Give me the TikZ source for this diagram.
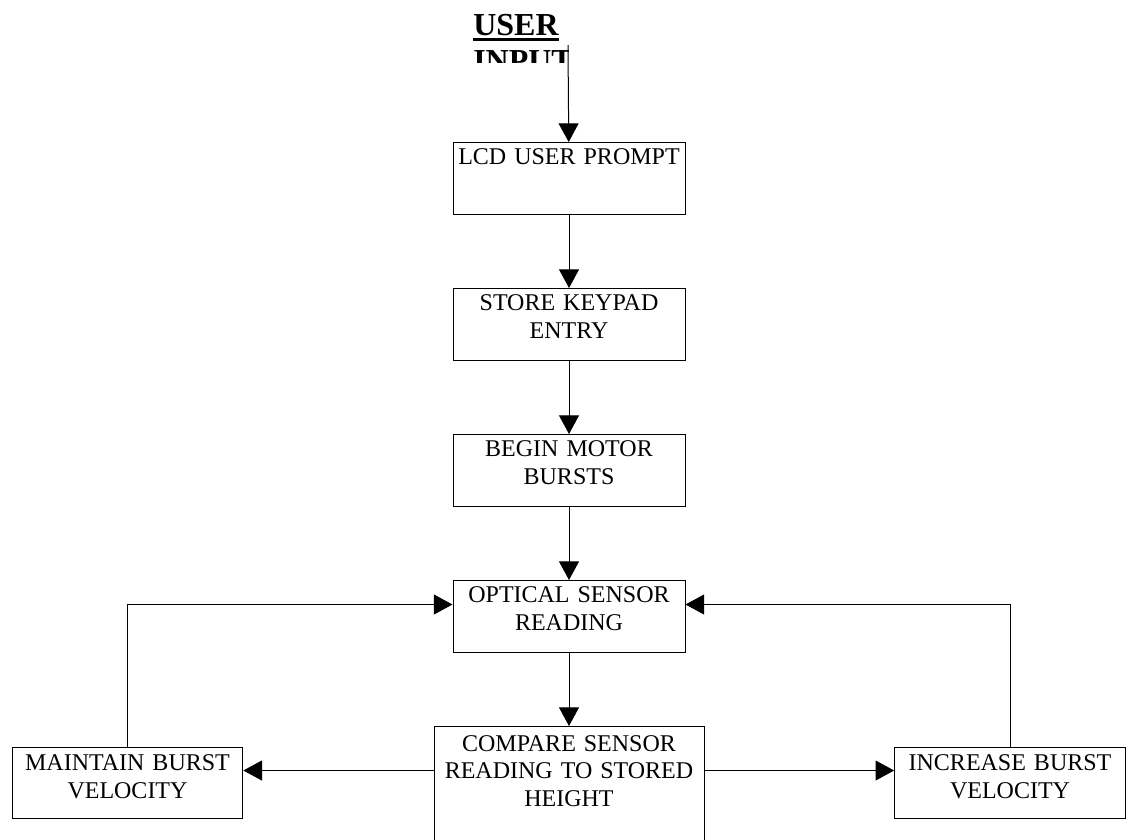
\documentclass[tikz,border=0pt]{standalone}
\usepackage{fontspec}
\setmainfont{Liberation Serif}
\usetikzlibrary{arrows.meta, positioning}

\begin{document}
\begin{tikzpicture}[
					x=0.75pt, y=-0.75pt,
					blk/.style={
						draw, line width=0.75pt, inner xsep=2pt, inner ysep=0pt,
						text width=170pt, align=center, font=\fontsize{18}{20.75}\selectfont,
						text height=16.5pt, text depth=37.5pt
					},
					ttl/.style={inner sep=0pt, font=\fontsize{24}{27}\selectfont\bfseries},
					flow/.style={-{Triangle[length=14pt, width=15pt]}, line width=0.75pt}
					]
					\clip (0,0) rectangle (1126,839);

					% title, cut off as in the original
					\begin{scope}
						\clip (460,0) rectangle (568,62);
						\node[ttl, anchor=base west] (user) at (473,35) {USER};
						\node[ttl, anchor=base west] (input) at (473,71) {INPUT};
						\draw[line width=2.2pt]
						([yshift=-3.6pt]user.base west) -- ([yshift=-3.6pt]user.base east);
					\end{scope}
					\coordinate (start) at (568,45);

					% main column
					\node[blk, anchor=north] (lcd) at (569,142) {LCD USER PROMPT};
					\node[blk, below=54.75pt of lcd] (store) {STORE KEYPAD\\ENTRY};
					\node[blk, below=54.75pt of store] (motor) {BEGIN MOTOR\\BURSTS};
					\node[blk, below=54.75pt of motor] (optical) {OPTICAL SENSOR\\READING};
					\node[blk, text width=198.5pt, text height=18.6pt, text depth=86.4pt,
					below=54.75pt of optical] (compare)
					{COMPARE SENSOR\\READING TO STORED\\HEIGHT};

					% side boxes
					\node[blk, text width=169pt, text height=17.9pt, text depth=35.35pt]
					(maintain) at (127.5,782.5) {MAINTAIN BURST\\VELOCITY};
					\node[blk, text width=169pt, text height=17.9pt, text depth=35.35pt]
					(increase) at (1010,782.5) {INCREASE BURST\\VELOCITY};

					\draw[flow] (start) -- (lcd);
					\draw[flow] (lcd) -- (store);
					\draw[flow] (store) -- (motor);
					\draw[flow] (motor) -- (optical);
					\draw[flow] (optical) -- (compare);

					\coordinate (mright) at ([yshift=9pt]maintain.east);
					\coordinate (ileft) at ([yshift=9pt]increase.west);
					\draw[flow] (compare.west |- mright) -- (mright);
					\draw[flow] (compare.east |- ileft) -- (ileft);

					\coordinate (oleft) at ([yshift=9pt]optical.west);
					\coordinate (oright) at ([yshift=9pt]optical.east);
					\draw[flow] (maintain.north) |- (oleft);
					\draw[flow] (increase.north) |- (oright);
				\end{tikzpicture}
\end{document}
